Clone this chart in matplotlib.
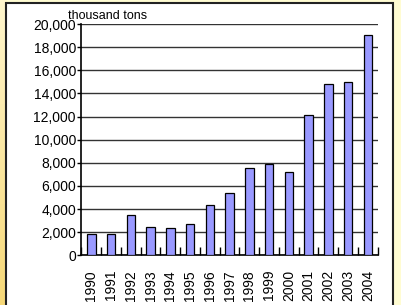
import numpy as np
import matplotlib
matplotlib.use("Agg")
import matplotlib.pyplot as plt
from matplotlib.patches import Rectangle
from matplotlib.ticker import FuncFormatter, FixedLocator

# Data (thousand tons)
years = ["1990", "1991", "1992", "1993", "1994", "1995", "1996", "1997",
         "1998", "1999", "2000", "2001", "2002", "2003", "2004"]
values = [1820, 1830, 3450, 2450, 2340, 2700, 4330, 5400,
          7530, 7900, 7240, 12150, 14800, 14950, 19070]
y_ticks = list(range(0, 20001, 2000))

plt.rcParams['font.family'] = ['Liberation Sans', 'DejaVu Sans']

W, H = 402, 305
fig = plt.figure(figsize=(W / 100, H / 100), dpi=100)
fig.patch.set_facecolor("#FFFCD2")

# left strip gradient (darker yellow at top)
bg = fig.add_axes([0, 0, 1, 1], zorder=-10)
bg.set_axis_off()
grad = np.linspace(0, 1, 100).reshape(-1, 1)
cmap = matplotlib.colors.LinearSegmentedColormap.from_list(
    "y", ["#F6D878", "#FFF6CC"])
bg.imshow(grad, aspect="auto", cmap=cmap, extent=[0, 7 / W, 0, 1])
bg.set_xlim(0, 1)
bg.set_ylim(1, 0)

# white panel
fig.patches.append(Rectangle((6.5 / W, -0.01), (393 - 6.5) / W, 1 - 3 / H + 0.01,
                             transform=fig.transFigure, facecolor="white",
                             edgecolor="#222222", linewidth=1.5, zorder=-5))

ax = fig.add_axes([81.5 / W, 1 - 255.3 / H, 296.2 / W, 231.3 / H])
ax.set_facecolor("none")
x = np.arange(len(years))
ax.bar(x, values, width=0.43, color="#9999FF", edgecolor="black",
       linewidth=0.9, zorder=3)

ax.set_xlim(-0.5, len(years) - 0.5)
ax.set_ylim(0, 20000)
ax.set_yticks(y_ticks)
ax.yaxis.set_major_formatter(FuncFormatter(lambda v, p: f"{int(v):,}"))
ax.grid(axis="y", color="#333333", linewidth=1.0, zorder=1)

ax.set_xticks(x)
ax.set_xticklabels(years, rotation=90)
ax.xaxis.set_minor_locator(FixedLocator(np.arange(-0.5, len(years), 1)))
ax.tick_params(axis="x", which="major", length=0, pad=10.5, labelsize=10)
ax.tick_params(axis="x", which="minor", direction="in", length=6, width=1)
ax.tick_params(axis="y", length=3, width=1, pad=1, labelsize=10)

for s in ["top", "right"]:
    ax.spines[s].set_visible(False)
ax.spines["left"].set_linewidth(1.2)
ax.spines["bottom"].set_linewidth(1.2)

fig.text(68 / W, 1 - 19 / H, "thousand tons", fontsize=9, ha="left", va="baseline")

fig.savefig("out.png", dpi=100)
